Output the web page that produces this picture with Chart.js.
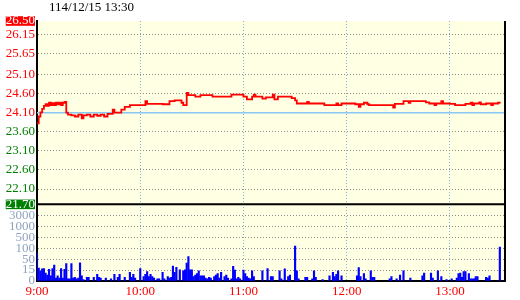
<!DOCTYPE html>
<html>
<head>
<meta charset="utf-8">
<script src="https://cdn.jsdelivr.net/npm/chart.js@4.4.1/dist/chart.umd.min.js"></script>
<style>html,body{margin:0;padding:0;background:#fff}</style>
</head>
<body>
<canvas id="tick" width="520" height="300"></canvas>
<script>
// header stamp and reference (previous close) price
const stamp = "114/12/15 13:30";
const refPrice = 24.10;

// axis labels
const priceTicks = [21.70, 22.10, 22.60, 23.10, 23.60, 24.10, 24.60, 25.10, 25.65, 26.15, 26.50];
const volTicks = [0, 15, 50, 100, 500, 1000, 3000];
const volTop = 10000;
const timeTicks = [0, 60, 120, 180, 240];
const timeLabels = ["9:00", "10:00", "11:00", "12:00", "13:00"];

// price steps: minutes after 9:00 and the price from that minute on
const priceMin = [0, 1, 2, 3, 4, 5, 6, 7, 8, 9, 10, 11, 12, 13, 14, 15, 16, 17, 18, 20, 22, 24, 26, 27, 29, 31, 33, 35, 37, 39, 41,
  44, 45, 49, 51, 54, 63, 64, 73, 77, 80, 84, 85, 87, 88, 92, 95, 102, 113, 120, 122, 125, 126, 127, 131, 133, 137, 138, 140,
  148, 150, 151, 157, 158, 167, 174, 175, 177, 182, 185, 187, 188, 190, 192, 193, 207, 208, 213, 216, 217, 226, 228, 231, 232,
  235, 236, 240, 243, 249, 252, 253, 254, 257, 258, 261, 264, 265, 268, 269];
const prices = [23.82, 24.00, 24.11, 24.20, 24.28, 24.32, 24.28, 24.36, 24.30, 24.35, 24.30, 24.36, 24.32, 24.36, 24.30, 24.36, 24.38, 24.10, 24.05, 24.03, 24.00, 24.05, 23.95, 24.03, 24.05, 24.00, 24.05, 24.02, 24.05, 24.00, 24.07,
  24.18, 24.10, 24.18, 24.25, 24.30, 24.40, 24.33, 24.32, 24.40, 24.42, 24.36, 24.30, 24.62, 24.56, 24.52, 24.56, 24.52, 24.57, 24.52, 24.45, 24.52, 24.57, 24.52, 24.47, 24.50, 24.57, 24.45, 24.52,
  24.48, 24.42, 24.34, 24.38, 24.34, 24.30, 24.34, 24.30, 24.34, 24.34, 24.32, 24.25, 24.32, 24.36, 24.32, 24.30, 24.23, 24.33, 24.40, 24.36, 24.40, 24.37, 24.34, 24.30, 24.34,
  24.40, 24.34, 24.33, 24.30, 24.33, 24.36, 24.30, 24.34, 24.37, 24.32, 24.34, 24.30, 24.34, 24.36, 24.35];

// volume per minute (lots)
const volMin = [0, 1, 2, 3, 4, 5, 6, 7, 8, 9, 10, 11, 12, 13, 14, 15, 16, 17, 18, 19, 20, 21, 22, 23, 24, 25, 26, 27, 29, 30, 33, 35, 36, 37, 40, 43, 45, 47, 48, 51,
  54, 55, 56, 57, 60, 62, 63, 64, 65, 66, 67, 68, 70, 71, 73, 74, 76, 77, 78, 79, 80, 81, 83, 85, 86, 87, 88, 89, 90, 91, 92, 93, 94, 95, 96, 97, 98, 99, 100,
  101, 103, 104, 105, 106, 107, 109, 110, 111, 113, 114, 115, 116, 117, 118, 120, 121, 122, 123, 124, 125, 126, 131, 134, 136, 137, 141, 142, 144, 146, 147,
  150, 151, 152, 156, 157, 160, 161, 162, 166, 170, 172, 173, 174, 175, 177, 186, 187, 188, 190, 191, 194, 195, 196, 205, 206, 209, 211, 213, 217, 224, 225,
  229, 230, 233, 235, 238, 241, 244, 245, 246, 247, 248, 249, 251, 252, 253, 254, 255, 256, 261, 262, 263, 269];
const vols = [77, 21, 14, 19, 20, 11, 8, 17, 7, 20, 31, 4, 7, 4, 20, 4, 17, 36, 3, 3, 36, 4, 5, 3, 4, 38, 7, 2, 5, 5, 5, 9, 5, 4, 4, 3, 9, 5, 9, 5,
  12, 5, 9, 4, 20, 6, 9, 13, 6, 9, 6, 4, 3, 3, 12, 3, 6, 4, 5, 28, 12, 24, 16, 14, 16, 37, 62, 16, 16, 6, 8, 10, 14, 7, 7, 7, 4, 3, 5,
  4, 6, 8, 10, 4, 12, 6, 8, 4, 3, 27, 15, 3, 5, 3, 15, 10, 6, 4, 3, 14, 6, 14, 20, 6, 6, 14, 3, 19, 6, 8,
  175, 14, 3, 5, 5, 3, 14, 5, 2, 7, 12, 6, 9, 14, 7, 7, 23, 6, 10, 3, 14, 5, 5, 3, 6, 3, 8, 14, 4, 7, 11,
  11, 4, 14, 6, 2, 3, 4, 10, 11, 5, 13, 13, 10, 3, 3, 3, 6, 6, 5, 4, 7, 140];

// volume axis: equal spacing between the labelled levels
const volBreaks = volTicks.concat([volTop]);
function volIndex(v) {
  for (let i = 1; i < volBreaks.length; i++) {
    if (v <= volBreaks[i]) return i - 1 + (v - volBreaks[i - 1]) / (volBreaks[i] - volBreaks[i - 1]);
  }
  return volBreaks.length - 1;
}
function volFromIndex(p) {
  const i = Math.max(0, Math.min(volBreaks.length - 2, Math.floor(p)));
  return volBreaks[i] + (p - i) * (volBreaks[i + 1] - volBreaks[i]);
}
class VolScale extends Chart.LinearScale {
  determineDataLimits() { this.min = 0; this.max = volTop; }
  buildTicks() { return volTicks.map(v => ({ value: v })); }
  getPixelForValue(v) { return this.getPixelForDecimal(volIndex(v) / (volBreaks.length - 1)); }
  getValueForPixel(px) { return volFromIndex(this.getDecimalForPixel(px) * (volBreaks.length - 1)); }
}
VolScale.id = 'volseg';
VolScale.defaults = {};
Chart.register(VolScale);

const font = { family: 'Liberation Serif', size: 13 };
const isEdge = v => v === priceTicks[0] || v === priceTicks[priceTicks.length - 1];

const frame = {
  id: 'frame',
  beforeDraw(chart) {
    const a = chart.chartArea, ctx = chart.ctx;
    ctx.save();
    ctx.fillStyle = '#ffffe3';
    ctx.fillRect(a.left, a.top, a.right - a.left, a.bottom - a.top);
    ctx.restore();
  },
  afterDraw(chart) {
    const a = chart.chartArea, ctx = chart.ctx;
    const sep = chart.scales.y.getPixelForValue(priceTicks[0]);
    ctx.save();
    ctx.strokeStyle = '#000';
    ctx.lineWidth = 2;
    ctx.beginPath();
    ctx.moveTo(a.left, sep);
    ctx.lineTo(a.right, sep);
    ctx.moveTo(a.right, a.top);
    ctx.lineTo(a.right, a.bottom);
    ctx.stroke();
    ctx.fillStyle = '#000';
    ctx.font = '13px "Liberation Serif"';
    ctx.textBaseline = 'middle';
    ctx.fillText(stamp, 49, 8);
    ctx.restore();
  }
};

new Chart(document.getElementById('tick'), {
  type: 'line',
  data: {
    datasets: [
      {
        label: 'price',
        data: priceMin.map((m, i) => ({ x: m, y: prices[i] })),
        yAxisID: 'y',
        borderColor: '#ff0000',
        borderWidth: 1.8,
        stepped: true,
        pointRadius: 0
      },
      {
        label: 'ref',
        data: [{ x: 0, y: refPrice }, { x: 272, y: refPrice }],
        yAxisID: 'y',
        borderColor: '#87c8f5',
        borderWidth: 1.5,
        pointRadius: 0
      },
      {
        type: 'bar',
        label: 'volume',
        data: volMin.map((m, i) => ({ x: m, y: vols[i] })),
        yAxisID: 'v',
        backgroundColor: '#0000ff',
        barThickness: 1.5
      }
    ]
  },
  options: {
    responsive: false,
    animation: false,
    layout: { padding: { top: 21, right: 15, left: 0, bottom: 0 } },
    plugins: { legend: { display: false }, tooltip: { enabled: false } },
    scales: {
      x: {
        type: 'linear',
        min: 0,
        max: 272,
        offset: false,
        afterBuildTicks: s => { s.ticks = timeTicks.map(v => ({ value: v })); },
        afterFit: s => { s.height = 19; },
        ticks: { callback: (v, i) => timeLabels[i], color: '#ff0000', font: font, padding: 3, maxRotation: 0, autoSkip: false },
        grid: { offset: false, drawTicks: false, color: c => c.index === 0 ? 'rgba(0,0,0,0)' : '#80b4e4' },
        border: { color: '#000', width: 2, dash: [1, 2] }
      },
      v: {
        type: 'volseg',
        position: 'left',
        stack: 'panes',
        stackWeight: 76.5,
        afterFit: s => { s.width = 37; },
        ticks: { callback: v => String(v), font: font, padding: 2, color: '#8fa3bf', autoSkip: false, z: 1 },
        grid: { drawTicks: false, color: c => c.index === 0 ? 'rgba(0,0,0,0)' : '#8c8c8c' },
        border: { color: '#000', width: 2, dash: [1, 2] }
      },
      y: {
        type: 'linear',
        position: 'left',
        stack: 'panes',
        stackWeight: 183,
        min: priceTicks[0],
        max: priceTicks[priceTicks.length - 1],
        afterBuildTicks: s => { s.ticks = priceTicks.map(v => ({ value: v })); },
        afterFit: s => { s.width = 37; },
        ticks: {
          callback: v => v.toFixed(2),
          autoSkip: false,
          font: font,
          padding: 2,
          color: c => isEdge(c.tick.value) ? '#ffffff' : (c.tick.value >= refPrice ? '#ff0000' : '#008000'),
          showLabelBackdrop: c => isEdge(c.tick.value),
          backdropColor: c => c.tick.value === priceTicks[0] ? '#008000' : '#ff0000',
          backdropPadding: { top: -3, bottom: -3, left: 0, right: 0 }
        },
        grid: {
          drawTicks: false,
          color: c => (isEdge(c.tick.value) || c.tick.value === refPrice) ? 'rgba(0,0,0,0)' : '#8c8c8c'
        },
        border: { color: '#000', width: 2, dash: [1, 2] }
      }
    }
  },
  plugins: [frame]
});
</script>
</body>
</html>
